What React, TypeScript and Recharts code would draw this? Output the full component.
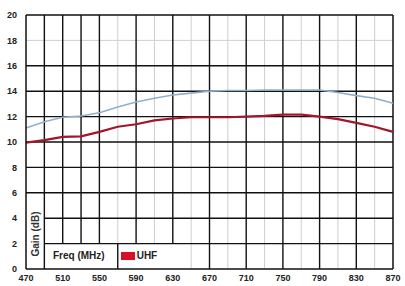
import React from 'react';
import { LineChart, Line, XAxis, YAxis, ReferenceLine } from 'recharts';

const freqs = [470, 490, 510, 530, 550, 570, 590, 610, 630, 650, 670, 690, 710, 730, 750, 770, 790, 810, 830, 850, 870];
const blueGain = [11.1, 11.6, 11.95, 12.05, 12.3, 12.75, 13.15, 13.45, 13.7, 13.85, 14.0, 14.05, 14.05, 14.1, 14.1, 14.1, 14.1, 13.9, 13.65, 13.45, 13.05];
const redGain = [9.95, 10.15, 10.4, 10.45, 10.8, 11.2, 11.4, 11.7, 11.85, 11.95, 11.95, 11.95, 12.0, 12.05, 12.15, 12.15, 12.0, 11.8, 11.5, 11.2, 10.8];

const xTicks = [470, 510, 550, 590, 630, 670, 710, 750, 790, 830, 870];
const yTicks = [0, 2, 4, 6, 8, 10, 12, 14, 16, 18, 20];

// grid: [x, yFrom, yTo]
const darkVerticals = [
  [490, 0, 20], [510, 2, 20], [530, 2, 20], [550, 2, 20], [570, 0, 2], [590, 2, 20], [630, 2, 20],
  [670, 0, 20], [710, 0, 20], [750, 0, 20], [790, 0, 20], [830, 0, 20],
];
const lightVerticals = [[570, 2, 20], [610, 2, 20], [650, 0, 20], [690, 0, 20], [730, 0, 20], [770, 0, 20], [810, 0, 20], [850, 0, 20]];
// [y, xFrom]
const darkHorizontals = [[2, 490], [4, 490], [6, 470], [8, 470], [10, 470], [12, 470], [14, 470], [16, 470]];
const lightHorizontals = [[18, 470]];

const data = freqs.map((f, i) => ({ freq: f, blue: blueGain[i], red: redGain[i] }));

const tickStyle = { fontFamily: 'Liberation Sans, Arial, sans-serif', fontSize: 9, fontWeight: 700, fill: '#222' };

export default function App() {
  return (
    <div style={{ position: 'absolute', left: 0, top: 0, width: 405, height: 286, background: '#fff' }}>
      <LineChart width={405} height={286} data={data} margin={{ top: 15, right: 12, left: 0, bottom: 0 }}>
        <XAxis
          dataKey="freq"
          type="number"
          domain={[470, 870]}
          ticks={xTicks}
          tick={tickStyle}
          tickLine={false}
          tickSize={0}
          tickMargin={6}
          height={17}
          axisLine={{ stroke: '#111', strokeWidth: 1.5 }}
          interval={0}
        />
        <YAxis
          type="number"
          domain={[0, 20]}
          ticks={yTicks}
          tick={tickStyle}
          tickLine={false}
          tickSize={0}
          tickMargin={9}
          width={26}
          axisLine={{ stroke: '#111', strokeWidth: 1.5 }}
          interval={0}
        />
        {lightVerticals.map(([x, y1, y2]) => (
          <ReferenceLine key={`lv-${x}-${y1}`} segment={[{ x, y: y1 }, { x, y: y2 }]} stroke="#cfcfcf" strokeWidth={1} />
        ))}
        {lightHorizontals.map(([y, x1]) => (
          <ReferenceLine key={`lh-${y}`} segment={[{ x: x1, y }, { x: 870, y }]} stroke="#cfcfcf" strokeWidth={1} />
        ))}
        {darkVerticals.map(([x, y1, y2]) => (
          <ReferenceLine key={`dv-${x}-${y1}`} segment={[{ x, y: y1 }, { x, y: y2 }]} stroke="#111" strokeWidth={1.4} />
        ))}
        {darkHorizontals.map(([y, x1]) => (
          <ReferenceLine key={`dh-${y}`} segment={[{ x: x1, y }, { x: 870, y }]} stroke="#111" strokeWidth={1.4} />
        ))}
        <ReferenceLine y={20} stroke="#111" strokeWidth={1.5} />
        <ReferenceLine x={870} stroke="#111" strokeWidth={1.5} />
        <Line dataKey="blue" type="linear" stroke="#8fb0cc" strokeWidth={1.6} dot={false} isAnimationActive={false} />
        <Line dataKey="red" type="linear" stroke="#a3152a" strokeWidth={2.2} dot={false} isAnimationActive={false} />
      </LineChart>
      <div
        style={{
          position: 'absolute',
          left: 35,
          top: 234,
          transform: 'translate(-50%, -50%) rotate(-90deg)',
          fontFamily: 'Liberation Sans, Arial, sans-serif',
          fontSize: 10,
          fontWeight: 700,
          color: '#333',
          whiteSpace: 'nowrap',
        }}
      >
        Gain (dB)
      </div>
      <div
        style={{
          position: 'absolute',
          left: 53,
          top: 250,
          fontFamily: 'Liberation Sans, Arial, sans-serif',
          fontSize: 10,
          fontWeight: 700,
          color: '#222',
          whiteSpace: 'nowrap',
          display: 'flex',
          alignItems: 'center',
        }}
      >
        <span>Freq (MHz)</span>
        <span style={{ display: 'inline-block', width: 14, height: 8, background: '#d8102a', marginLeft: 16, marginRight: 2 }} />
        <span>UHF</span>
      </div>
    </div>
  );
}
